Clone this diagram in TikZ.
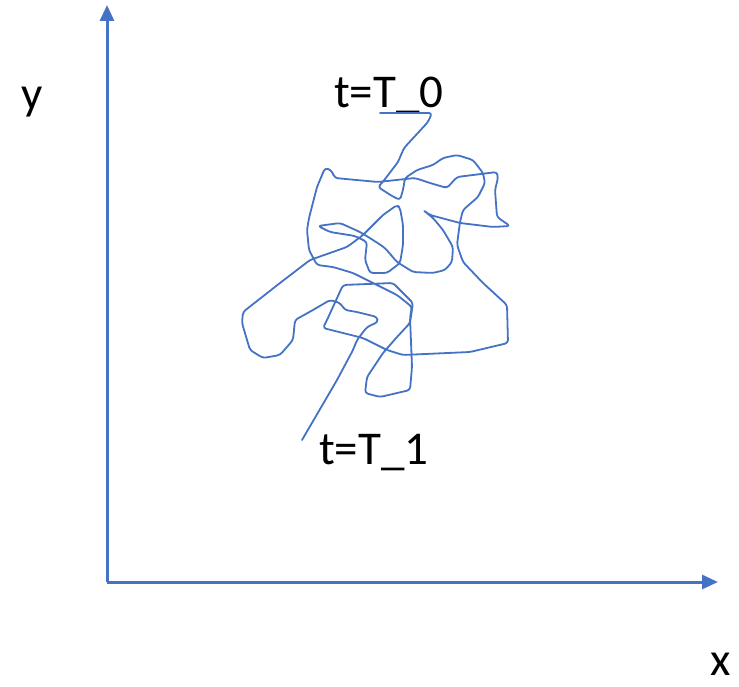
\documentclass[tikz,border=0pt]{standalone}
\usepackage{fontspec}
\setmainfont{Carlito}
\usetikzlibrary{arrows.meta}
\definecolor{WalkBlue}{RGB}{68,114,196}

\begin{document}
\begin{tikzpicture}[
x=1pt,y=-1pt,
axis/.style={draw=WalkBlue,line width=3pt,-{Triangle[length=16pt,width=14pt]}},
walk/.style={draw=WalkBlue,line width=1.8pt,rounded corners=3pt,line join=round,line cap=round},
lbl/.style={font=\fontsize{47}{54}\selectfont,inner sep=0pt}
]
\useasboundingbox (0,0) rectangle (739,687);
% axes
\coordinate (origin) at (107,582);
\coordinate (ytip) at (107,5);
\coordinate (xtip) at (718,582);
\draw[axis] (origin) -- (ytip);
\draw[axis] (origin) -- (xtip);
\node[lbl,anchor=base] (ylabel) at (32,110) {y};
\node[lbl,anchor=base] (xlabel) at (721,675) {x};
% labels of the path
\node[lbl,anchor=base west] (start) at (334,108) {t=T\_0};
\node[lbl,anchor=base west] (stop) at (319,464) {t=T\_1};
% the path
\draw[walk] (380,113) -- (432,113) -- (428,122) -- (404,148) -- (398,162)
  -- (382,183) -- (378,187) -- (392,196) -- (400,200) -- (403,190) -- (405,178)
  -- (417,170) -- (433,165) -- (443,158) -- (457,155) -- (473,160) -- (483,173)
  -- (485,183) -- (478,197) -- (463,210) -- (460,222) -- (457,245) -- (463,262)
  -- (483,283) -- (507,305) -- (508,343) -- (470,352) -- (403,355) -- (387,350)
  -- (363,338) -- (323,328) -- (327,320) -- (343,285) -- (393,283) -- (403,293)
  -- (413,303) -- (410,323) -- (397,337) -- (383,353) -- (367,377) -- (365,393)
  -- (380,397) -- (410,390) -- (412,367) -- (410,317) -- (412,307) -- (397,295)
  -- (373,283) -- (353,273) -- (333,267) -- (317,265) -- (309,250) -- (307,230)
  -- (309,218) -- (317,187) -- (325,168) -- (331,170) -- (335,178) -- (378,182)
  -- (415,178) -- (430,183) -- (447,188) -- (457,177) -- (497,172) -- (498,178)
  -- (495,190) -- (497,217) -- (510,226) -- (493,227) -- (460,223) -- (430,215)
  -- (423,210) -- (433,218) -- (443,230) -- (453,247) -- (452,262) -- (445,270)
  -- (433,273) -- (413,272) -- (397,262) -- (385,248) -- (373,240) -- (360,232)
  -- (340,223) -- (318,226) -- (330,232) -- (355,236) -- (367,242) -- (365,260)
  -- (370,273) -- (387,273) -- (400,263) -- (403,245) -- (403,225) -- (400,208)
  -- (397,205) -- (383,215) -- (363,235) -- (347,247) -- (310,260) -- (280,283)
  -- (243,312) -- (242,323) -- (250,350) -- (263,358) -- (280,355) -- (293,340)
  -- (295,320) -- (313,310) -- (330,300) -- (340,303) -- (345,310) -- (357,312)
  -- (377,317) -- (378,322) -- (367,327) -- (357,340) -- (353,350) -- (337,380)
  -- (302,440);
\end{tikzpicture}
\end{document}
